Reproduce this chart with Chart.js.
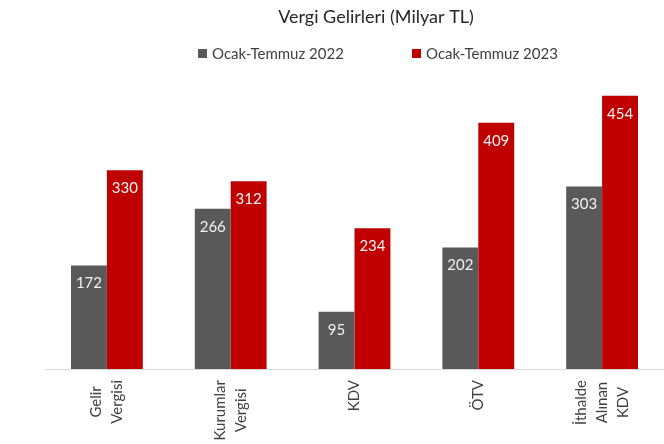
<!DOCTYPE html>
<html>
<head>
<meta charset="utf-8">
<script src="https://cdn.jsdelivr.net/npm/chart.js@4"></script>
<style>
  body { margin: 0; background: #fff; }
  #wrap { width: 664px; height: 444px; }
</style>
</head>
<body>
<div id="wrap"><canvas id="myChart" width="664" height="444"></canvas></div>
<script>
let title = 'Vergi Gelirleri (Milyar TL)'
let labels = [['Gelir', 'Vergisi'], ['Kurumlar', 'Vergisi'], ['KDV'], ['ÖTV'], ['İthalde', 'Alınan', 'KDV']]
let seriesNames = ['Ocak-Temmuz 2022', 'Ocak-Temmuz 2023']
let values2022 = [172, 266, 95, 202, 303]
let values2023 = [330, 312, 234, 409, 454]

const fontFam = 'Lato, "Open Sans", sans-serif'

// title, legend, value labels and rotated category labels
const headerPlugin = {
  id: 'header',
  afterDraw(chart) {
    const ctx = chart.ctx
    ctx.save()
    ctx.fillStyle = '#262626'
    ctx.font = '18px ' + fontFam
    ctx.textAlign = 'center'
    ctx.textBaseline = 'middle'
    ctx.fillText(title, 376, 17)

    ctx.font = '15px ' + fontFam
    ctx.textAlign = 'left'
    const legendX = [198, 412]
    chart.data.datasets.forEach(function(ds, i) {
      ctx.fillStyle = ds.backgroundColor
      ctx.fillRect(legendX[i], 49, 9, 9)
      ctx.fillStyle = '#404040'
      ctx.fillText(ds.label, legendX[i] + 14, 54)
    })

    // value labels
    ctx.font = '15px ' + fontFam
    ctx.textAlign = 'center'
    ctx.fillStyle = '#f2f2f2'
    chart.data.datasets.forEach(function(ds, i) {
      chart.getDatasetMeta(i).data.forEach(function(bar, j) {
        ctx.fillText(ds.data[j], bar.x, bar.y + 18)
      })
    })

    // category labels, rotated, lines centred
    const xs = chart.scales.x
    const lineH = 21
    ctx.font = '15px ' + fontFam
    ctx.fillStyle = '#404040'
    ctx.textAlign = 'center'
    chart.data.labels.forEach(function(lab, i) {
      const px = xs.getPixelForTick(i)
      let maxW = 0
      lab.forEach(function(t) { maxW = Math.max(maxW, ctx.measureText(t).width) })
      const cy = xs.top + 11 + maxW / 2
      ctx.save()
      ctx.translate(px, cy)
      ctx.rotate(-Math.PI / 2)
      lab.forEach(function(t, k) {
        ctx.fillText(t, 0, (k - (lab.length - 1) / 2) * lineH)
      })
      ctx.restore()
    })
    ctx.restore()
  }
}

var ctx = document.getElementById('myChart').getContext('2d')
var myChart = new Chart(ctx, {
  type: 'bar',
  data: {
    labels: labels,
    datasets: [{
      label: seriesNames[0],
      data: values2022,
      backgroundColor: '#595959',
      categoryPercentage: 0.58,
      barPercentage: 1
    },
    {
      label: seriesNames[1],
      data: values2023,
      backgroundColor: '#C00000',
      categoryPercentage: 0.58,
      barPercentage: 1
    }]
  },
  options: {
    responsive: false,
    animation: false,
    layout: { padding: { top: 68, left: 45, right: 0, bottom: 0 } },
    plugins: {
      legend: { display: false },
      title: { display: false },
      tooltip: { enabled: false }
    },
    scales: {
      x: {
        grid: { display: true, color: 'rgba(0,0,0,0)', drawTicks: false },
        border: { display: true, color: '#d9d9d9', width: 1 },
        ticks: { display: false },
        afterFit: function(axis) {
          axis.height = 75
          axis.paddingLeft = 0
          axis.paddingRight = 0
        }
      },
      y: {
        display: false,
        min: 0,
        max: 500
      }
    }
  },
  plugins: [headerPlugin]
})
</script>
</body>
</html>
